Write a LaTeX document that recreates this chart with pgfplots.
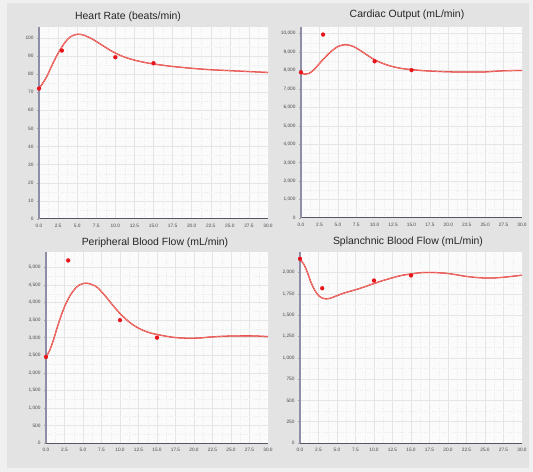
\documentclass[border=0pt]{standalone}
\usepackage{pgfplots}
\pgfplotsset{compat=1.18}
\usepackage{pgfplotstable}
\usepackage{fontspec}
\setmainfont{Liberation Sans}
\definecolor{outerbg}{HTML}{F0F0F0}
\definecolor{panelbg}{HTML}{E3E3E3}
\definecolor{plotbg}{HTML}{FBFBFB}
\definecolor{axcol}{HTML}{8E8EA8}
\definecolor{curvecol}{HTML}{DD2222}
\definecolor{corecol}{HTML}{FFB0A0}
\definecolor{dotcol}{HTML}{E8141A}
\definecolor{ticktxt}{HTML}{4A4A4A}

\pgfplotstableread{
x y
0 72
0.5 75
1 78.5
1.5 83
2 87.5
2.5 91.5
3 95
3.5 98
4 100.2
4.5 101.4
5 102
5.5 101.9
6 101.3
7 99.3
8 96.7
9 94
10 91.6
11 89.7
12 88.3
13 87.2
14 86.3
15 85.6
16 85
17.5 84.2
20 83.2
22.5 82.4
25 81.9
27.5 81.4
30 80.9
}\hrcurve
\pgfplotstableread{
x y
0 72
3 93
10 89.3
15 86
}\hrdots

\pgfplotstableread{
x y
0 7870
0.5 7800
1 7830
1.5 7950
2 8150
3 8600
4 9000
5 9300
6 9400
7 9320
8 9100
9 8830
10 8580
11 8400
12 8260
13 8160
14 8090
15 8050
16 8010
17.5 7970
20 7930
22.5 7915
25 7925
27.5 7985
30 8000
}\cocurve
\pgfplotstableread{
x y
0 7900
3 9950
10 8500
15 8020
}\codots

\pgfplotstableread{
x y
0 2450
0.5 2640
1 2930
1.5 3280
2 3600
2.5 3880
3 4100
3.5 4280
4 4410
4.5 4500
5 4540
5.6 4550
6.5 4490
7 4420
8 4190
9 3930
10 3690
11 3490
12 3330
13 3220
14 3140
15 3090
16 3050
17 3015
18 2995
19 2985
20 2985
21 2995
22 3015
24 3040
26 3050
28 3050
30 3030
}\pbcurve
\pgfplotstableread{
x y
0 2450
3 5200
10 3500
15 3000
}\pbdots

\pgfplotstableread{
x y
0 2150
0.5 2100
1 2000
1.5 1880
2 1790
2.5 1730
3 1700
3.5 1690
4 1695
5 1728
6 1760
7 1785
8 1810
9 1840
10 1870
11 1900
12 1925
13 1950
14 1970
15 1982
16 1995
17 2000
18 2000
19 1995
20 1988
21 1975
22 1960
23 1948
24 1940
25 1935
26 1935
27 1940
28 1948
29 1958
30 1968
}\sbcurve
\pgfplotstableread{
x y
0 2160
3 1815
10 1905
15 1965
}\sbdots

\pgfplotsset{
  panel/.style={
    scale only axis,
    axis background/.style={fill=plotbg},
    axis x line=bottom, axis y line=left,
    axis line style={-},
    x axis line style={draw=axcol!60!black, line width=1pt},
    y axis line style={draw=axcol, line width=1.3pt},
    xmin=0, xmax=30,
    xtick={0,2.5,...,30},
    minor x tick num=1, minor y tick num=1,
    grid=both,
    major grid style={draw=gray!20, line width=0.4pt},
    minor grid style={draw=gray!13, line width=0.4pt, dash pattern=on 1.2pt off 1.2pt},
    minor tick length=0pt,
    major tick length=2pt,
    tick align=outside,
    xtick style={draw=none},
    ytick style={draw=gray!70, line width=0.4pt},
    tick label style={font=\fontsize{4.8}{5}\selectfont, text=ticktxt},
    xticklabel style={/pgf/number format/.cd, fixed, fixed zerofill, precision=1, assume math mode=true},
    yticklabel style={/pgf/number format/.cd, fixed, precision=0, 1000 sep={,}, assume math mode=true},
    scaled ticks=false,
    xtick pos=bottom, ytick pos=left,
    ymin=0,
    clip=false,
  },
  curve/.style={curvecol, line width=1.3pt, smooth, no marks},
  core/.style={corecol, line width=0.35pt, smooth, no marks},
  dots/.style={only marks, mark=*, mark size=2pt, mark options={fill=dotcol, draw=dotcol, line width=0.2pt}},
}

\begin{document}
\begin{tikzpicture}
\useasboundingbox (0,0) rectangle (533bp,472bp);
\fill[outerbg] (0,0) rectangle (533bp,472bp);
\fill[panelbg] (7bp,4bp) rectangle (529bp,469bp);

% Heart rate
\begin{axis}[panel, at={(39bp,253bp)}, anchor=south west,
  width=229bp, height=192bp, ymax=106, ytick={0,10,...,100}]
\addplot[curve] table {\hrcurve};
\addplot[core] table {\hrcurve};
\addplot[dots] table {\hrdots};
\end{axis}
\node[font=\fontsize{10.5}{12}\selectfont, text=black!85] at (128bp,455bp) {Heart Rate (beats/min)};

% Cardiac output
\begin{axis}[panel, at={(301bp,254bp)}, anchor=south west,
  width=221bp, height=191bp, ymax=10360, ytick={0,1000,...,10000}]
\addplot[curve] table {\cocurve};
\addplot[core] table {\cocurve};
\addplot[dots] table {\codots};
\end{axis}
\node[font=\fontsize{10.5}{12}\selectfont, text=black!85] at (407bp,457bp) {Cardiac Output (mL/min)};

% Peripheral
\begin{axis}[panel, at={(46bp,29bp)}, anchor=south west,
  width=222bp, height=191bp, ymax=5440, ytick={0,500,...,5000}]
\addplot[curve] table {\pbcurve};
\addplot[core] table {\pbcurve};
\addplot[dots] table {\pbdots};
\end{axis}
\node[font=\fontsize{10.5}{12}\selectfont, text=black!85] at (155bp,229bp) {Peripheral Blood Flow (mL/min)};

% Splanchnic
\begin{axis}[panel, at={(300bp,29bp)}, anchor=south west,
  width=222bp, height=191bp, ymax=2240, ytick={0,250,...,2000}]
\addplot[curve] table {\sbcurve};
\addplot[core] table {\sbcurve};
\addplot[dots] table {\sbdots};
\end{axis}
\node[font=\fontsize{10.5}{12}\selectfont, text=black!85] at (408bp,230bp) {Splanchnic Blood Flow (mL/min)};
\end{tikzpicture}
\end{document}
